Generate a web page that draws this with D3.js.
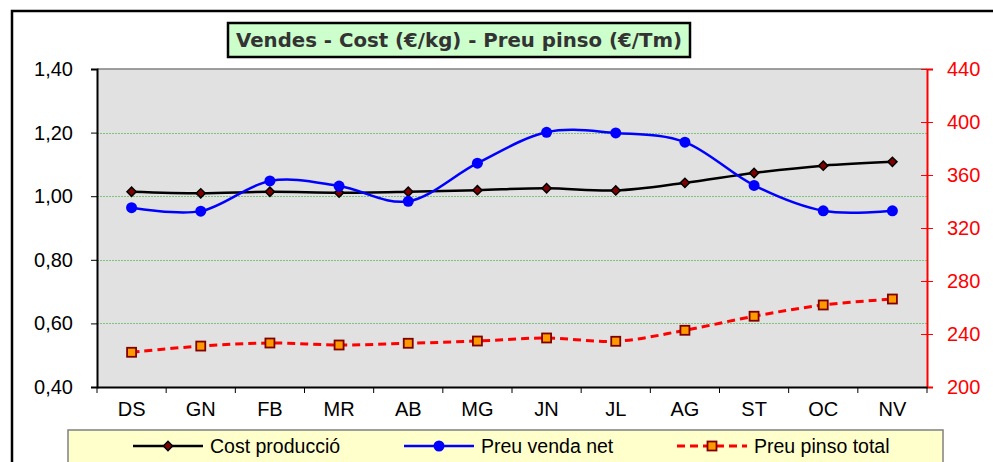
<!DOCTYPE html>
<html>
<head>
<meta charset="UTF-8">
<script src="https://d3js.org/d3.v7.min.js"></script>
<title>Vendes - Cost</title>
<style>
    body{margin:0;background:#fff;}
    text{font-family:"Liberation Sans",Arial,sans-serif;}
</style>
</head>
<body>
<div id="chart"></div>
<script>
    // dades
    var months=['DS','GN','FB','MR','AB','MG','JN','JL','AG','ST','OC','NV']
    var cost=[1.014,1.009,1.014,1.011,1.014,1.019,1.025,1.018,1.042,1.073,1.096,1.108]
    var venda=[0.964,0.953,1.048,1.032,0.984,1.104,1.201,1.199,1.170,1.034,0.954,0.954]
    var pinso=[226.2,230.9,233.2,231.7,233.0,234.7,237.0,234.5,242.8,253.4,261.9,266.4]
    var leftTicks=[0.4,0.6,0.8,1.0,1.2,1.4]
    var rightTicks=[200,240,280,320,360,400,440]

    var width=993,height=462
    var plot={left:97,top:69,right:927,bottom:387}

    var svg=d3.select('#chart').append('svg')
        .attr('width',width)
        .attr('height',height)

    // marc exterior
    svg.append('rect')
        .attr('x',12).attr('y',11)
        .attr('width',1000).attr('height',500)
        .attr('fill','#fff').attr('stroke','#000').attr('stroke-width',2.5)

    var x=d3.scaleBand().domain(months).range([plot.left,plot.right])
    var yL=d3.scaleLinear().domain([0.4,1.4]).range([plot.bottom,plot.top])
    var yR=d3.scaleLinear().domain([200,440]).range([plot.bottom,plot.top])
    var cx=function(d,i){return x(months[i])+x.bandwidth()/2}

    // fons
    svg.append('rect')
        .attr('x',plot.left).attr('y',plot.top)
        .attr('width',plot.right-plot.left).attr('height',plot.bottom-plot.top)
        .attr('fill','#e1e1e1')
    svg.append('line')
        .attr('x1',plot.left).attr('x2',plot.right)
        .attr('y1',plot.top).attr('y2',plot.top)
        .attr('stroke','#808080').attr('stroke-width',1.5)

    // graella
    svg.append('g').selectAll('line')
        .data(leftTicks.slice(1,-1))
        .join('line')
        .attr('x1',plot.left).attr('x2',plot.right)
        .attr('y1',function(d){return Math.round(yL(d))+0.5})
        .attr('y2',function(d){return Math.round(yL(d))+0.5})
        .attr('stroke','#7cc47c').attr('stroke-width',1)
        .attr('stroke-dasharray','2,1')

    // eixos
    var fmt=function(d){return d3.format('.2f')(d).replace('.',',')}
    var axL=svg.append('g')
        .attr('transform','translate('+plot.left+',0)')
        .call(d3.axisLeft(yL).tickValues(leftTicks).tickFormat(fmt).tickSize(6).tickPadding(18))
    axL.select('.domain').attr('stroke','#000').attr('stroke-width',2)
    axL.selectAll('.tick line').attr('stroke','#000')
    axL.selectAll('text').attr('font-size',20).attr('fill','#000')
        .style('font-family','"Liberation Sans",Arial,sans-serif')

    var axR=svg.append('g')
        .attr('transform','translate('+plot.right+',0)')
        .call(d3.axisRight(yR).tickValues(rightTicks).tickSize(6).tickPadding(14))
    axR.select('.domain').attr('stroke','#f00').attr('stroke-width',2)
    axR.selectAll('.tick line').attr('stroke','#f00').attr('x1',-6)
    axR.selectAll('text').attr('font-size',20).attr('fill','#f00')
        .style('font-family','"Liberation Sans",Arial,sans-serif')

    var axB=svg.append('g')
        .attr('transform','translate(0,'+plot.bottom+')')
        .call(d3.axisBottom(x).tickSize(0).tickPadding(15))
    axB.select('.domain').attr('stroke','#000').attr('stroke-width',2)
    axB.selectAll('text').attr('font-size',20).attr('fill','#000')
        .style('font-family','"Liberation Sans",Arial,sans-serif')
    // separadors de categories
    svg.append('g').selectAll('line')
        .data(months.concat(['end']))
        .join('line')
        .attr('x1',function(d,i){return plot.left+i*x.bandwidth()})
        .attr('x2',function(d,i){return plot.left+i*x.bandwidth()})
        .attr('y1',plot.bottom).attr('y2',plot.bottom+6)
        .attr('stroke','#000')

    var curve=d3.curveCardinal.tension(0)
    var diamond=d3.symbol(d3.symbolSquare,42)()

    // Cost producció
    svg.append('path')
        .attr('d',d3.line().x(cx).y(function(d){return yL(d)}).curve(curve)(cost))
        .attr('fill','none').attr('stroke','#000').attr('stroke-width',2.5)
    svg.append('g').selectAll('path')
        .data(cost).join('path')
        .attr('d',diamond)
        .attr('transform',function(d,i){return 'translate('+cx(d,i)+','+yL(d)+') rotate(45)'})
        .attr('fill','#800000').attr('stroke','#000').attr('stroke-width',1.5)

    // Preu venda net
    svg.append('path')
        .attr('d',d3.line().x(cx).y(function(d){return yL(d)}).curve(curve)(venda))
        .attr('fill','none').attr('stroke','#0000ff').attr('stroke-width',2.5)
    svg.append('g').selectAll('circle')
        .data(venda).join('circle')
        .attr('cx',cx).attr('cy',function(d){return yL(d)})
        .attr('r',5.5).attr('fill','#0000ff')

    // Preu pinso total
    svg.append('path')
        .attr('d',d3.line().x(cx).y(function(d){return yR(d)}).curve(curve)(pinso))
        .attr('fill','none').attr('stroke','#ff0000').attr('stroke-width',3)
        .attr('stroke-dasharray','8,5')
    svg.append('g').selectAll('rect')
        .data(pinso).join('rect')
        .attr('x',function(d,i){return cx(d,i)-4.5})
        .attr('y',function(d){return yR(d)-4.5})
        .attr('width',9).attr('height',9)
        .attr('fill','#ff9900').attr('stroke','#800000').attr('stroke-width',1.8)

    // títol
    svg.append('rect')
        .attr('x',228).attr('y',23).attr('width',462).attr('height',34)
        .attr('fill','#ccffcc').attr('stroke','#000').attr('stroke-width',2.5)
    svg.append('text')
        .attr('x',236).attr('y',47)
        .attr('textLength',446).attr('lengthAdjust','spacingAndGlyphs')
        .style('font-family','"DejaVu Sans",Verdana,sans-serif')
        .attr('font-weight','bold').attr('font-size',19)
        .attr('fill','#333')
        .text('Vendes - Cost (€/kg) - Preu pinso (€/Tm)')

    // llegenda
    var lg=svg.append('g')
    lg.append('rect')
        .attr('x',68).attr('y',430).attr('width',875).attr('height',40)
        .attr('fill','#ffffcc').attr('stroke','#808080').attr('stroke-width',1.5)
    var items=[
        {name:'Cost producció',x:133},
        {name:'Preu venda net',x:404},
        {name:'Preu pinso total',x:677}
    ]
    var ly=446
    // línia 1
    lg.append('line').attr('x1',items[0].x).attr('x2',items[0].x+70).attr('y1',ly).attr('y2',ly)
        .attr('stroke','#000').attr('stroke-width',2.5)
    lg.append('path').attr('d',diamond)
        .attr('transform','translate('+(items[0].x+35)+','+ly+') rotate(45)')
        .attr('fill','#800000').attr('stroke','#000').attr('stroke-width',1.5)
    // línia 2
    lg.append('line').attr('x1',items[1].x).attr('x2',items[1].x+70).attr('y1',ly).attr('y2',ly)
        .attr('stroke','#0000ff').attr('stroke-width',2.5)
    lg.append('circle').attr('cx',items[1].x+35).attr('cy',ly).attr('r',5.5).attr('fill','#0000ff')
    // línia 3
    lg.append('line').attr('x1',items[2].x).attr('x2',items[2].x+70).attr('y1',ly).attr('y2',ly)
        .attr('stroke','#ff0000').attr('stroke-width',3).attr('stroke-dasharray','8,5')
    lg.append('rect').attr('x',items[2].x+35-4.5).attr('y',ly-4.5).attr('width',9).attr('height',9)
        .attr('fill','#ff9900').attr('stroke','#800000').attr('stroke-width',1.8)

    lg.selectAll('text.lbl')
        .data(items).join('text')
        .attr('class','lbl')
        .attr('x',function(d){return d.x+77})
        .attr('y',ly+7)
        .attr('font-size',19.5).attr('fill','#000')
        .text(function(d){return d.name})
</script>
</body>
</html>
